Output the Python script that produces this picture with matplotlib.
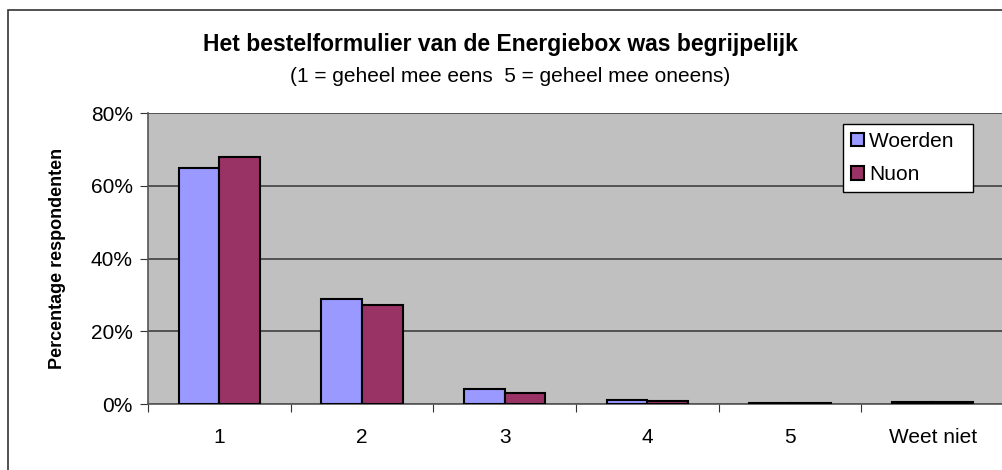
import numpy as np
import matplotlib
matplotlib.use("Agg")
import matplotlib.pyplot as plt
from matplotlib.patches import Rectangle

plt.rcParams['font.family'] = ['Liberation Sans', 'DejaVu Sans']

categories = ['1', '2', '3', '4', '5', 'Weet niet']
woerden = [65, 29, 4, 1.1, 0.4, 0.6]
nuon = [68, 27.2, 3, 0.9, 0.4, 0.5]
y_ticks = [0, 20, 40, 60, 80]
y_labels = ['0%', '20%', '40%', '60%', '80%']

fig = plt.figure(figsize=(10.02, 4.70), dpi=100)
ax = fig.add_axes([148 / 1002, 66 / 470, 856 / 1002, 291 / 470])

# outer chart border (runs off the right/bottom edge like the original)
fig.patches.append(Rectangle((8 / 1002, -0.1), 1.2, 460 / 470 + 0.1,
                             transform=fig.transFigure, fill=False,
                             edgecolor='#333333', linewidth=1.2, clip_on=False))

x = np.arange(len(categories))
w = 0.286
b1 = ax.bar(x - w / 2, woerden, w, color='#9999FF', edgecolor='black', linewidth=1.5,
            zorder=3)
b2 = ax.bar(x + w / 2, nuon, w, color='#993366', edgecolor='black', linewidth=1.5,
            zorder=3)

ax.set_facecolor('#C0C0C0')
ax.set_xlim(-0.5, len(categories) - 0.5)
ax.set_ylim(0, 80)
ax.set_yticks(y_ticks)
ax.set_yticklabels(y_labels, fontsize=15)
ax.yaxis.grid(True, color='#404040', linewidth=1.2, zorder=1)
ax.set_axisbelow(True)

# category labels centered, tick marks at boundaries
ax.set_xticks(np.arange(len(categories) + 1) - 0.5)
ax.set_xticklabels([])
ax.set_xticks(x, minor=True)
ax.set_xticklabels(categories, minor=True, fontsize=15)
ax.tick_params(axis='x', which='minor', length=0, pad=17)
ax.tick_params(axis='x', which='major', length=6, direction='out', color='#333333')
ax.tick_params(axis='y', length=6, direction='out', color='#333333', pad=5)

for s in ['top', 'right']:
    ax.spines[s].set_visible(False)
ax.spines['left'].set_color('#555555')
ax.spines['bottom'].set_color('#555555')
ax.spines['left'].set_linewidth(1.2)
ax.spines['bottom'].set_linewidth(1.2)

ax.set_ylabel('Percentage respondenten', fontsize=13, fontweight='bold', labelpad=18)

# trailing spaces give the wider Excel-style legend box
leg = ax.legend([b1, b2], ['Woerden  ', 'Nuon'], loc='upper right',
                bbox_to_anchor=(973 / 1002, 1 - 124 / 470),
                bbox_transform=fig.transFigure, fontsize=15, fancybox=False,
                framealpha=1, edgecolor='black', borderpad=0.37, handlelength=0.62,
                handleheight=0.62, handletextpad=0.25, labelspacing=0.69,
                borderaxespad=0)
leg.get_frame().set_linewidth(1.0)

fig.text(500 / 1002, 1 - 45 / 470, 'Het bestelformulier van de Energiebox was begrijpelijk',
         ha='center', va='center', fontsize=16.5, fontweight='bold')
fig.text(510 / 1002, 1 - 77 / 470, '(1 = geheel mee eens  5 = geheel mee oneens)',
         ha='center', va='center', fontsize=15)

fig.savefig('out.png', dpi=100)
